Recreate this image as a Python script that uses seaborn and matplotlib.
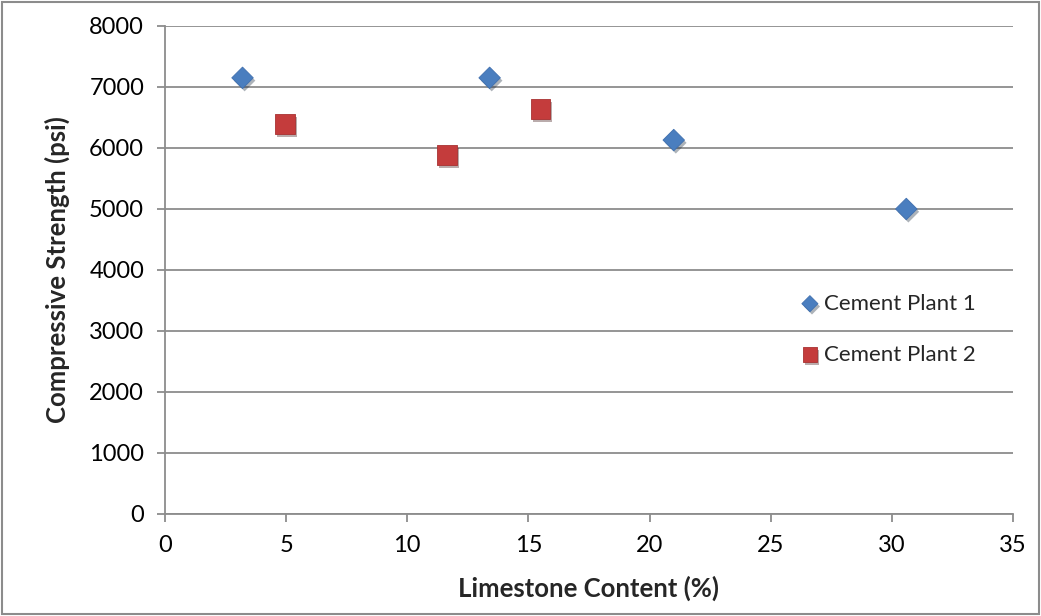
import pandas as pd
import matplotlib.pyplot as plt
import matplotlib.patheffects as pe
from matplotlib.patches import Rectangle
import seaborn as sns

# Data
plant1_limestone = [3.2, 13.4, 21.0, 30.6]
plant1_strength = [7150, 7150, 6130, 5000]
plant2_limestone = [4.95, 11.65, 15.5]
plant2_strength = [6390, 5880, 6640]

x_ticks = [0, 5, 10, 15, 20, 25, 30, 35]
y_ticks = [0, 1000, 2000, 3000, 4000, 5000, 6000, 7000, 8000]

data = pd.concat([
    pd.DataFrame({'limestone': plant1_limestone, 'strength': plant1_strength, 'plant': 'Cement Plant 1'}),
    pd.DataFrame({'limestone': plant2_limestone, 'strength': plant2_strength, 'plant': 'Cement Plant 2'}),
])

sns.set_style('white')
plt.rcParams['font.family'] = ['Lato', 'DejaVu Sans']

fig = plt.figure(figsize=(10.41, 6.16), dpi=100)
ax = fig.add_axes([0.1585, 0.1656, 0.8145, 0.7922])

shadow = [pe.SimplePatchShadow(offset=(1.5, -2), alpha=0.35), pe.Normal()]

p1 = data[data['plant'] == 'Cement Plant 1']
p2 = data[data['plant'] == 'Cement Plant 2']
sns.scatterplot(x='limestone', y='strength', data=p1, ax=ax, marker='D', s=120,
                color='#4A7EBF', edgecolor='#3F6FAE', linewidth=0.6,
                label='Cement Plant 1', zorder=3)
sns.scatterplot(x='limestone', y='strength', data=p2, ax=ax, marker='s', s=200,
                color='#C43C3C', edgecolor='#A83232', linewidth=0.6,
                label='Cement Plant 2', zorder=3)
for coll in ax.collections:
    coll.set_path_effects(shadow)

ax.set_xlim(0, 35)
ax.set_ylim(0, 8000)
ax.set_xticks(x_ticks)
ax.set_yticks(y_ticks)
ax.yaxis.grid(True, color='#8C8C8C', linewidth=1.3)
ax.set_axisbelow(True)

for side in ['top', 'right']:
    ax.spines[side].set_visible(False)
for side in ['left', 'bottom']:
    ax.spines[side].set_color('#8C8C8C')
    ax.spines[side].set_linewidth(1.3)

ax.tick_params(axis='both', which='major', direction='out', length=6, width=1.3,
               color='#8C8C8C', labelsize=17, labelcolor='black', pad=9,
               bottom=True, left=True)

ax.set_xlabel('Limestone Content (%)', fontsize=18.5, fontweight='bold', labelpad=14)
ax.set_ylabel('Compressive Strength (psi)', fontsize=18.5, fontweight='bold', labelpad=14)

leg = ax.legend(loc='upper left', bbox_to_anchor=(0.737, 0.47), frameon=False,
                fontsize=16, handletextpad=0.15, labelspacing=1.4, borderaxespad=0,
                handlelength=1.0, markerscale=0.75)

fig.patches.append(Rectangle((0.002, 0.003), 0.996, 0.994, transform=fig.transFigure,
                             fill=False, edgecolor='#8C8C8C', linewidth=1.5))

fig.savefig('out.png', dpi=100)
